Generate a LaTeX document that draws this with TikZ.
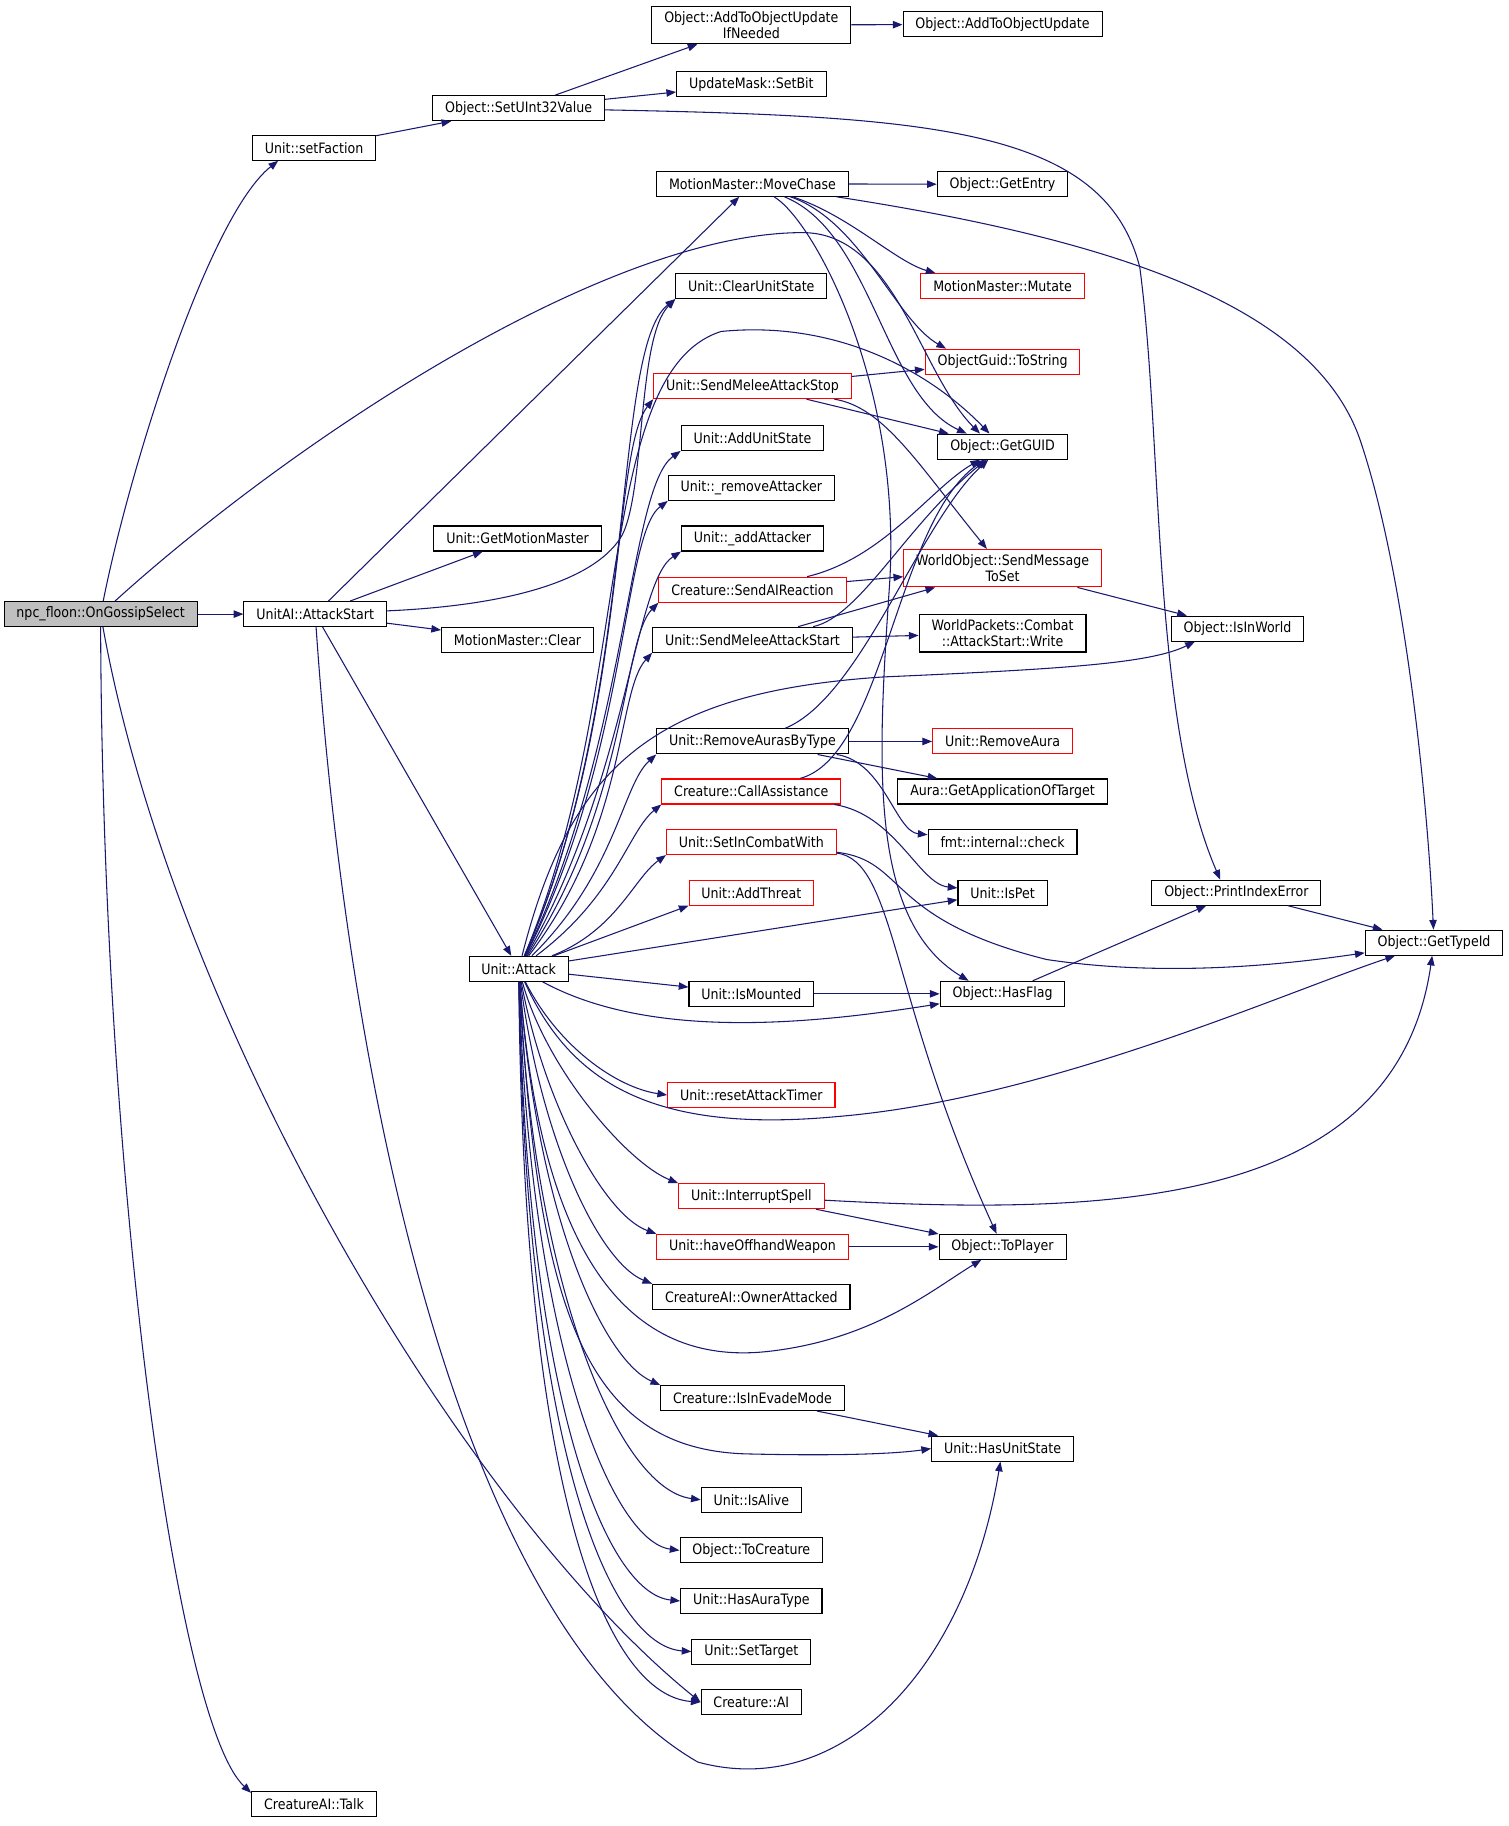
\documentclass[tikz,border=0pt]{standalone}
\usepackage{fontspec}
\setmainfont{DejaVu Sans}[FakeStretch=0.88]
\usetikzlibrary{arrows.meta}
\definecolor{edgeBlue}{HTML}{191970}
\definecolor{rootGray}{HTML}{BFBFBF}

\begin{document}
\begin{tikzpicture}
[lineDecorate/.style={-{Triangle[length=5pt,width=3.8pt]},draw=edgeBlue,line width=0.55pt},%
  nodeDecorate/.style={shape=rectangle,draw=black,fill=white,line width=0.55pt,inner xsep=6.4pt,inner ysep=2.5pt,minimum height=12.9pt,align=center},%
  nodeRed/.style={nodeDecorate,draw=red},%
  nodeRoot/.style={nodeDecorate,fill=rootGray},%
  x=0.6pt,y=-0.6pt]
\fontsize{7.4}{8.6}\selectfont
\useasboundingbox (0,0) rectangle (1297,1570);
%% nodes or vertices
\node (npc) at (86.5,528) [nodeRoot] {npc\_floon::OnGossipSelect};
\foreach \nodename/\x/\y/\nodetext in {fac/270/127/Unit::setFaction, ais/271/528/UnitAI::AttackStart,
  tlk/270/1551/CreatureAI::Talk, set/446/93/Object::SetUInt32Value, gmm/445/463/Unit::GetMotionMaster,
  clr/445/550/MotionMaster::Clear, att/446/833/Unit::Attack, aoun/646/21.5/{Object::AddToObjectUpdate\\IfNeeded},
  bit/646/72.5/UpdateMask::SetBit, mch/647/158/MotionMaster::MoveChase, cus/646/246/Unit::ClearUnitState,
  aus/647/376.5/Unit::AddUnitState, rma/646/419.5/Unit::\_removeAttacker, ada/647/463/Unit::\_addAttacker,
  sms/647/550/Unit::SendMeleeAttackStart, rab/647/637.5/Unit::RemoveAurasByType, mnt/646/854.5/Unit::IsMounted,
  own/646/1115/CreatureAI::OwnerAttacked, eva/647/1202/Creature::IsInEvadeMode, alv/646/1289.5/Unit::IsAlive,
  tcr/646/1333/Object::ToCreature, hat/646/1376.5/Unit::HasAuraType, tgt/646/1420/Unit::SetTarget,
  cai/646/1463.5/Creature::AI, aou/862/21/Object::AddToObjectUpdate, ent/862/158.5/Object::GetEntry,
  gid/862/384/Object::GetGUID, wrt/862/544.5/{WorldPackets::Combat\\::AttackStart::Write},
  gat/862/680.5/Aura::GetApplicationOfTarget, chk/862/724/fmt::internal::check, pet/862/767.5/Unit::IsPet,
  flg/862/854.5/Object::HasFlag, tpl/862/1072/Object::ToPlayer, hus/862/1245.5/Unit::HasUnitState,
  inw/1064/540.5/Object::IsInWorld, pie/1063/767.5/Object::PrintIndexError, tid/1233/810.5/Object::GetTypeId}
{
  \node (\nodename) at (\x,\y) [nodeDecorate] {\nodetext};
}
\foreach \nodename/\x/\y/\nodetext in {mst/647/332/Unit::SendMeleeAttackStop, air/647/507/Creature::SendAIReaction,
  cas/646/680.5/Creature::CallAssistance, icw/646/724/Unit::SetInCombatWith, thr/646/767.5/Unit::AddThreat,
  rat/646/941.5/Unit::resetAttackTimer, isp/646/1028.5/Unit::InterruptSpell, hoh/647/1072/Unit::haveOffhandWeapon,
  mut/862/246/MotionMaster::Mutate, tos/862/311/ObjectGuid::ToString, smt/862/488.5/{WorldObject::SendMessage\\ToSet},
  rau/862/637.5/Unit::RemoveAura}
{
  \node (\nodename) at (\x,\y) [nodeRed] {\nodetext};
}
%% straight edges
\path
\foreach \startnode/\endnode in {npc/ais, fac/set, set/aoun, set/bit, aoun/aou, ais/mch, ais/gmm, ais/clr,
  ais/att, mch/ent, mst/tos, mst/gid, air/smt, sms/wrt, sms/smt, rab/rau, rab/gat, smt/inw, mnt/flg,
  att/mnt, att/pet, att/thr.south west, flg/pie, pie/tid, isp/tpl, hoh/tpl, eva/hus}
{
  (\startnode) edge[lineDecorate] (\endnode)
};
%% curved edges
\foreach \startnode/\endnode/\ax/\ay/\bx/\by in {npc/fac.200/112/400/180/185, npc/tlk.170/88/1000/150/1480,
  npc/cai.west/150/880/400/1300, mch/mut.169/730/185/770/225, mch/tos.167/740/190/770/275,
  mch/gid.160/750/200/760/340, mst/smt/760/350/790/400, air/gid/760/480/800/420, sms/gid/740/530/780/450,
  rab/gid/740/600/790/450, cas/gid/760/650/770/450, cas/pet/770/700/790/760, rab/chk/760/655/770/715,
  icw/tpl/770/740/765/860, isp/tid/950/1045/1200/1040, att/flg/560/895/700/880,
  att/cus.south west/550/600/525/300, att/mst.south west/540/620/525/390, att/aus.south west/540/640/540/420,
  att/rma.south west/540/650/535/460, att/ada.south west/540/670/545/500, att/air.south west/540/690/535/550,
  att/sms.south west/540/710/530/595, att/rab.south west/530/750/535/675, att/cas.south west/530/770/540/715,
  att/icw.south west/530/800/545/755, att/rat.west/480/900/530/935, att/isp.north west/470/920/540/1000,
  att/hoh.north west/468/950/520/1045, att/own.north west/465/980/515/1085, att/eva.north west/462/1050/520/1170,
  att/alv.west/458/1100/530/1280, att/tcr.west/455/1150/525/1325, att/hat.west/453/1200/520/1370,
  att/tgt.west/452/1250/525/1415, att/cai.west/450/1300/525/1458}
{
  \draw[lineDecorate] (\startnode) .. controls (\ax,\ay) and (\bx,\by) .. (\endnode);
}
\draw[lineDecorate] (npc) .. controls (250,380) and (520,200) .. (690,200) .. controls (770,200) and (790,320) .. (gid.150);
\draw[lineDecorate] (set) .. controls (800,100) and (950,110) .. (980,230) .. controls (1000,380) and (990,620) .. (pie.141);
\draw[lineDecorate] (ais) .. controls (450,520) and (515,495) .. (535,460) .. controls (555,420) and (548,290) .. (cus.south west);
\draw[lineDecorate] (ais) .. controls (300,950) and (400,1400) .. (600,1515) .. controls (720,1548) and (830,1440) .. (hus);
\draw[lineDecorate] (mch) .. controls (950,205) and (1130,260) .. (1170,380) .. controls (1210,500) and (1228,700) .. (tid);
\draw[lineDecorate] (mch) .. controls (700,190) and (775,330) .. (765,500) .. controls (755,650) and (745,790) .. (flg.159);
\draw[lineDecorate] (icw) .. controls (780,740) and (760,790) .. (900,825) .. controls (1000,840) and (1100,830) .. (tid);
\draw[lineDecorate] (att) .. controls (545,600) and (510,320) .. (620,285) .. controls (720,275) and (800,320) .. (gid.135);
\draw[lineDecorate] (att) .. controls (490,660) and (560,595) .. (760,582) .. controls (920,575) and (990,570) .. (inw.197);
\draw[lineDecorate] (att) .. controls (490,930) and (560,975) .. (720,960) .. controls (900,945) and (1100,855) .. (tid);
\draw[lineDecorate] (att) .. controls (465,1080) and (540,1175) .. (660,1162) .. controls (750,1152) and (800,1110) .. (tpl);
\draw[lineDecorate] (att) .. controls (462,1120) and (500,1245) .. (640,1250) .. controls (720,1252) and (770,1250) .. (hus.west);
\end{tikzpicture}
\end{document}
